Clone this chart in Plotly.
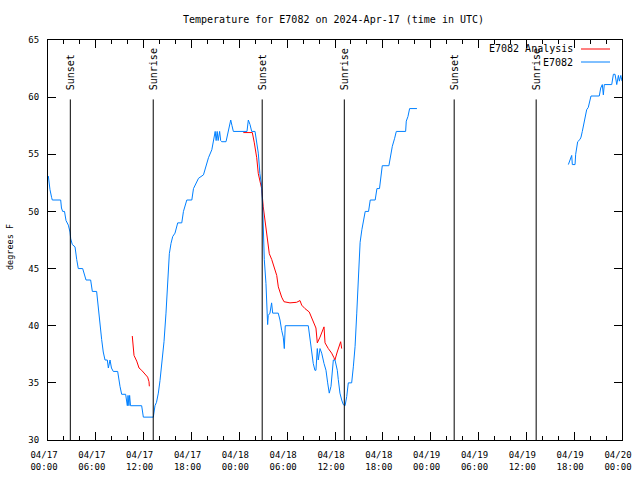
import pandas as pd
import plotly.graph_objects as go

# ---- data (hours since 2024-04-17 00:00 UTC, degrees F) ----
base = pd.Timestamp("2024-04-17 00:00")

obs_hours = [0.04, 0.13, 0.25, 0.46, 0.54, 1.59, 1.69, 1.84, 2.07, 2.26, 2.38, 2.55, 2.76, 2.85, 3.05,
             3.39, 3.60, 3.80, 4.35, 4.64, 4.77, 5.35, 5.56, 6.10, 6.31, 6.52, 6.73, 6.93, 7.15, 7.44,
             7.57, 7.78, 7.96, 8.19, 8.74, 9.03, 9.24, 9.74, 9.95, 10.04, 10.15, 10.24, 10.35, 11.75,
             11.96, 13.21, 13.42, 13.61, 13.84, 14.05, 14.26, 14.55, 14.80, 15.01, 15.22, 15.43, 15.64,
             15.93, 16.27, 16.78, 16.99, 17.41, 18.04, 18.25, 18.88, 19.50, 19.84, 20.13, 20.55, 20.75,
             20.97, 21.09, 21.22, 21.34, 21.53, 21.66, 21.79, 22.33, 22.62, 22.83, 22.92, 23.08, 23.25,
             24.96, 25.13, 25.34, 25.55, 25.97, 26.18, 26.38, 26.58, 26.80, 26.93, 27.00, 27.13, 27.34,
             27.43, 27.55, 27.63, 27.84, 28.05, 28.18, 28.88, 29.10, 29.31, 29.51, 29.64, 29.76, 32.65,
             32.86, 33.07, 33.27, 33.48, 33.61, 33.78, 33.90, 34.12, 34.33, 34.62, 34.87, 35.08, 35.28,
             35.50, 35.66, 35.79, 36.00, 36.29, 36.41, 36.62, 36.84, 37.04, 37.26, 37.47, 37.67, 38.09,
             38.30, 38.52, 38.73, 38.94, 39.15, 39.37, 39.58, 39.79, 40.21, 40.42, 41.04, 41.26, 41.58,
             41.76, 41.93, 42.76, 42.94, 43.19, 43.48, 43.69, 44.86, 44.94, 45.15, 45.36, 46.28,
             None,
             65.27, 65.57, 65.69, 65.77, 66.11, 66.19, 66.32, 66.44, 66.73, 66.86, 67.02, 67.15, 67.36,
             67.57, 67.77, 67.99, 68.11, 69.15, 69.33, 69.53, 69.66, 69.78, 70.71, 70.92, 71.13, 71.34,
             71.55, 71.67, 71.85, 72.00]
obs_temp = [53.1, 52.4, 51.9, 51.2, 51.0, 51.0, 50.3, 50.0, 50.0, 49.2, 49.0, 48.8, 48.2, 47.6, 47.1,
            46.9, 45.8, 45.0, 45.0, 44.4, 44.0, 44.0, 43.0, 43.0, 41.4, 40.2, 38.8, 37.7, 37.0, 37.0,
            36.3, 37.0, 36.3, 36.0, 36.0, 34.7, 34.0, 34.0, 33.0, 33.9, 33.0, 33.9, 33.0, 33.0,
            32.0, 32.0, 33.0, 33.3, 34.1, 35.2, 36.4, 38.6, 41.1, 44.4, 46.3, 47.2, 47.8,
            48.1, 49.0, 49.0, 50.0, 51.0, 51.0, 52.0, 52.9, 53.2, 54.1, 54.7, 55.4, 56.3,
            57.0, 56.2, 57.0, 56.2, 57.0, 56.2, 56.1, 56.1, 57.0, 57.5, 58.0, 57.5, 57.0,
            57.0, 58.0, 57.6, 57.0, 57.0, 56.2, 55.1, 53.3, 52.2, 50.4, 47.5, 45.8, 43.7,
            41.4, 40.1, 40.9, 41.1, 42.0, 41.1, 41.1, 40.5, 39.6, 39.0, 38.0, 40.0, 40.0,
            38.8, 37.6, 36.7, 36.1, 36.1, 38.0, 37.0, 38.0, 37.6, 36.7, 36.1, 35.0, 34.1,
            34.7, 35.8, 37.0, 37.0, 36.1, 35.3, 34.1, 33.5, 33.1, 33.0, 33.8, 35.0, 35.0,
            36.4, 38.2, 41.1, 44.6, 47.3, 48.4, 49.3, 50.0, 50.0, 51.0, 51.0, 52.0, 52.0,
            53.2, 54.0, 54.0, 54.9, 55.7, 56.4, 57.0, 57.0, 57.9, 58.3, 59.0, 59.0,
            None,
            54.1, 54.8, 54.9, 54.1, 54.1, 55.0, 55.7, 56.1, 56.3, 56.5, 57.0, 57.4, 58.1,
            58.9, 59.1, 59.8, 60.1, 60.1, 60.8, 61.1, 60.2, 61.1, 61.1, 62.0, 62.0, 61.1,
            61.9, 61.4, 61.9, 61.4]

ana_hours = [10.57, 10.70, 10.79, 11.13, 11.42, 11.75, 12.17, 12.50, 12.67, 12.71,
             None,
             24.50, 25.63, 25.88, 26.18, 26.38, 26.59, 26.80, 27.00, 27.30, 27.55, 27.76, 28.06,
             28.47, 28.69, 28.89, 29.31, 29.60, 30.35, 31.19, 31.61, 31.82, 32.23, 32.77, 33.20,
             33.61, 33.78, 34.12, 34.62, 34.75, 35.16, 35.58, 35.87, 35.99, 36.28, 36.71, 36.84]
ana_temp = [39.1, 38.3, 37.4, 36.9, 36.3, 36.1, 35.8, 35.5, 35.1, 34.7,
            None,
            56.9, 56.9, 56.0, 54.7, 53.3, 52.5, 52.0, 50.4, 48.7, 47.5, 46.3, 45.8,
            45.0, 44.4, 43.4, 42.5, 42.1, 42.0, 42.05, 42.2, 41.8, 41.5, 41.2, 40.4,
            39.8, 38.5, 39.0, 39.9, 38.5, 38.0, 37.6, 37.2, 37.0, 37.7, 38.6, 38.0]

sun_labels = ["Sunset", "Sunrise", "Sunset", "Sunrise", "Sunset", "Sunrise"]
sun_times = ["2024-04-17 02:48", "2024-04-17 13:12", "2024-04-18 02:52",
             "2024-04-18 13:10", "2024-04-19 02:57", "2024-04-19 13:14"]

tick_vals = pd.date_range("2024-04-17 00:00", "2024-04-20 00:00", freq="6h")
tick_text = [t.strftime("%m/%d<br>%H:%M") for t in tick_vals]
y_ticks = [30, 35, 40, 45, 50, 55, 60, 65]

title_text = "Temperature for E7082 on 2024-Apr-17 (time in UTC)"
y_title = "degrees F"


def to_time(hours):
    return [None if h is None else base + pd.Timedelta(hours=h) for h in hours]


FONT = "DejaVu Sans Mono"
L, R, T, B = 48, 18, 40, 40
PW, PH = 640 - L - R, 480 - T - B


def px_x(px):
    return (px - L) / PW


def px_y(py):
    return 1 - (py - T) / PH


fig = go.Figure()
fig.add_trace(go.Scatter(x=to_time(ana_hours), y=ana_temp, mode="lines",
                         line=dict(color="#ff0000", width=1), name="E7082 Analysis",
                         connectgaps=False))
fig.add_trace(go.Scatter(x=to_time(obs_hours), y=obs_temp, mode="lines",
                         line=dict(color="#0080ff", width=1), name="E7082",
                         connectgaps=False))

for lab, t in zip(sun_labels, sun_times):
    fig.add_shape(type="line", x0=t, x1=t, y0=30, y1=59.8, xref="x", yref="y",
                  line=dict(color="black", width=1), layer="above")
    fig.add_annotation(x=t, y=px_y(92), xref="x", yref="paper", text=lab, textangle=-90,
                       showarrow=False, xanchor="center", yanchor="bottom",
                       font=dict(family=FONT, size=10, color="black"))

# gnuplot-style legend (text then line sample)
legend_items = [("E7082 Analysis", "#ff0000", 49), ("E7082", "#0080ff", 62)]
for txt, col, py in legend_items:
    yp = px_y(py)
    fig.add_annotation(x=px_x(575), y=yp, xref="paper", yref="paper", text=txt,
                       showarrow=False, xanchor="right", yanchor="middle",
                       font=dict(family=FONT, size=10, color="black"))
    fig.add_shape(type="line", xref="paper", yref="paper",
                  x0=px_x(581), x1=px_x(610), y0=yp, y1=yp,
                  line=dict(color=col, width=1))

# title and y-axis title as annotations at gnuplot positions
fig.add_annotation(x=px_x(333), y=px_y(19), xref="paper", yref="paper", text=title_text,
                   showarrow=False, xanchor="center", yanchor="middle",
                   font=dict(family=FONT, size=10, color="black"))
fig.add_annotation(x=px_x(10), y=px_y(247), xref="paper", yref="paper", text=y_title,
                   textangle=-90, showarrow=False, xanchor="center", yanchor="middle",
                   font=dict(family=FONT, size=8.5, color="black"))

fig.update_layout(
    width=640, height=480,
    margin=dict(l=L, r=R, t=T, b=B, autoexpand=False),
    paper_bgcolor="white", plot_bgcolor="white",
    showlegend=False,
    font=dict(family=FONT, size=9, color="black"),
)
fig.update_xaxes(range=[base, base + pd.Timedelta(hours=72)], tickvals=list(tick_vals),
                 ticktext=tick_text, ticks="inside", ticklen=8, tickcolor="black",
                 showline=True, linecolor="black", linewidth=1, mirror="allticks",
                 showgrid=False, zeroline=False, automargin=False,
                 ticklabelshift=-4, ticklabelstandoff=6,
                 minor=dict(dtick=2 * 3600 * 1000, ticks="inside", ticklen=4,
                            tickcolor="black", showgrid=False),
                 tickfont=dict(family=FONT, size=9))
fig.update_yaxes(range=[30, 65], tickvals=y_ticks, ticks="inside", ticklen=8,
                 tickcolor="black", showline=True, linecolor="black", linewidth=1,
                 mirror="allticks", showgrid=False, zeroline=False, automargin=False,
                 ticklabelstandoff=6,
                 tickfont=dict(family=FONT, size=9))

fig.write_html("out.html", config={"displayModeBar": False},
               post_script="document.body.style.margin='0';document.body.style.overflow='hidden';")
